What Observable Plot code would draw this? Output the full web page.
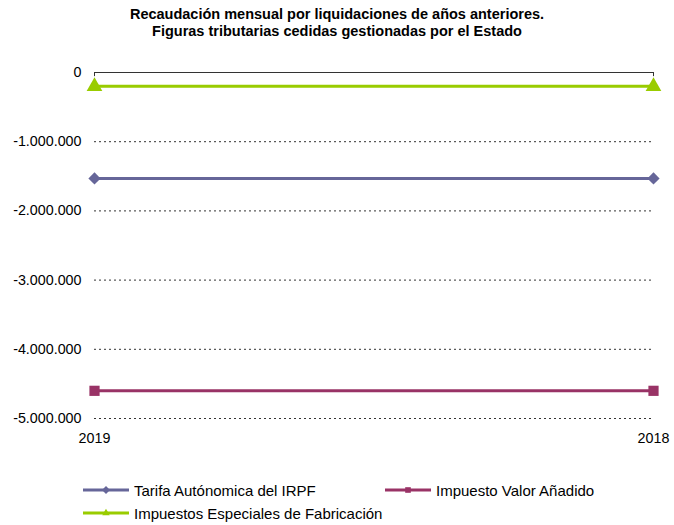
<!DOCTYPE html>
<html>
<head>
<meta charset="utf-8">
<script src="https://cdn.jsdelivr.net/npm/d3@7"></script>
<script src="https://cdn.jsdelivr.net/npm/@observablehq/plot@0.6"></script>
<style>
  body { margin: 0; background: #fff; font-family: "Liberation Sans", Arial, sans-serif; }
  #wrap { width: 674px; height: 525px; position: relative; }
  #title { position: absolute; top: 6px; left: 0; width: 674px; text-align: center; font-weight: bold; font-size: 14.5px; line-height: 17px; color: #000; }
  #chart { position: absolute; top: 45px; left: 0; }
  .legend { position: absolute; font-size: 15px; color: #000; display: flex; align-items: center; }
  .legend svg { margin-right: 5px; }
</style>
</head>
<body>
<div id="wrap">
  <div id="title">Recaudación mensual por liquidaciones de años anteriores.<br>Figuras tributarias cedidas gestionadas por el Estado</div>
  <div id="chart"></div>
  <div id="legend"></div>
</div>
<script>
const years = ["2019", "2018"];
const seriesNames = ["Tarifa Autónomica del IRPF", "Impuesto Valor Añadido", "Impuestos Especiales de Fabricación"];
const irpf = [-1530000, -1530000];
const iva = [-4600000, -4600000];
const ief = [-200000, -200000];
const colors = ["#666699", "#993366", "#99CC00"];
const symbols = ["diamond2", "square2", "triangle2"];
const yTicks = [0, -1000000, -2000000, -3000000, -4000000, -5000000];

const seriesValues = [irpf, iva, ief];
const data = [];
seriesNames.forEach((s, i) => years.forEach((y, j) => data.push({series: s, year: y, value: seriesValues[i][j]})));

const fmt = n => n === 0 ? "0" : (n < 0 ? "-" : "") + Math.abs(n).toString().replace(/\B(?=(\d{3})+(?!\d))/g, ".");

const plot = Plot.plot({
  width: 674,
  height: 408,
  marginLeft: 94,
  marginRight: 21,
  marginTop: 27,
  marginBottom: 35,
  style: {fontFamily: "Liberation Sans, Arial, sans-serif", fontSize: "14.3px", color: "#000", background: "transparent"},
  x: {type: "point", domain: years, padding: 0, label: null},
  y: {domain: [-5000000, 0], label: null},
  color: {domain: seriesNames, range: colors},
  symbol: {domain: seriesNames, range: symbols},
  marks: [
    Plot.ruleY(yTicks.filter(d => d !== 0), {stroke: "#333", strokeDasharray: "2,3", strokeWidth: 1}),
    Plot.ruleY([0], {stroke: "#333", strokeWidth: 1}),
    Plot.ruleX(years, {x: d => d, y1: 0, y2: -60000, stroke: "#333"}),
    Plot.axisY({ticks: yTicks, tickFormat: fmt, tickSize: 0, tickPadding: 13, fontSize: 14.3, label: null}),
    Plot.axisX({tickSize: 0, tickPadding: 14, fontSize: 14.3, label: null}),
    Plot.line(data, {x: "year", y: "value", z: "series", stroke: "series", strokeWidth: 3}),
    Plot.dot(data.filter(d => d.series === seriesNames[0]), {x: "year", y: "value", symbol: "series", fill: "series", r: 5.5, stroke: null}),
    Plot.dot(data.filter(d => d.series === seriesNames[1]), {x: "year", y: "value", symbol: "series", fill: "series", r: 6.5, stroke: null}),
    Plot.dot(data.filter(d => d.series === seriesNames[2]), {x: "year", y: "value", symbol: "series", fill: "series", r: 7.5, stroke: null})
  ]
});
document.getElementById("chart").appendChild(plot);

// legend
const legendPos = [[83, 481], [385, 481], [83, 504]];
const legendEl = document.getElementById("legend");
seriesNames.forEach((s, i) => {
  const div = document.createElement("div");
  div.className = "legend";
  div.style.left = legendPos[i][0] + "px";
  div.style.top = legendPos[i][1] + "px";
  const sw = d3.create("svg").attr("width", 46).attr("height", 18);
  sw.append("line").attr("x1", 0).attr("x2", 46).attr("y1", 9).attr("y2", 9).attr("stroke", colors[i]).attr("stroke-width", 3);
  const sym = [d3.symbolDiamond2, d3.symbolSquare2, d3.symbolTriangle2][i];
  sw.append("path").attr("d", d3.symbol(sym, 40)()).attr("transform", "translate(23,9)").attr("fill", colors[i]);
  div.appendChild(sw.node());
  const t = document.createElement("span");
  t.textContent = s;
  div.appendChild(t);
  legendEl.appendChild(div);
});
</script>
</body>
</html>
